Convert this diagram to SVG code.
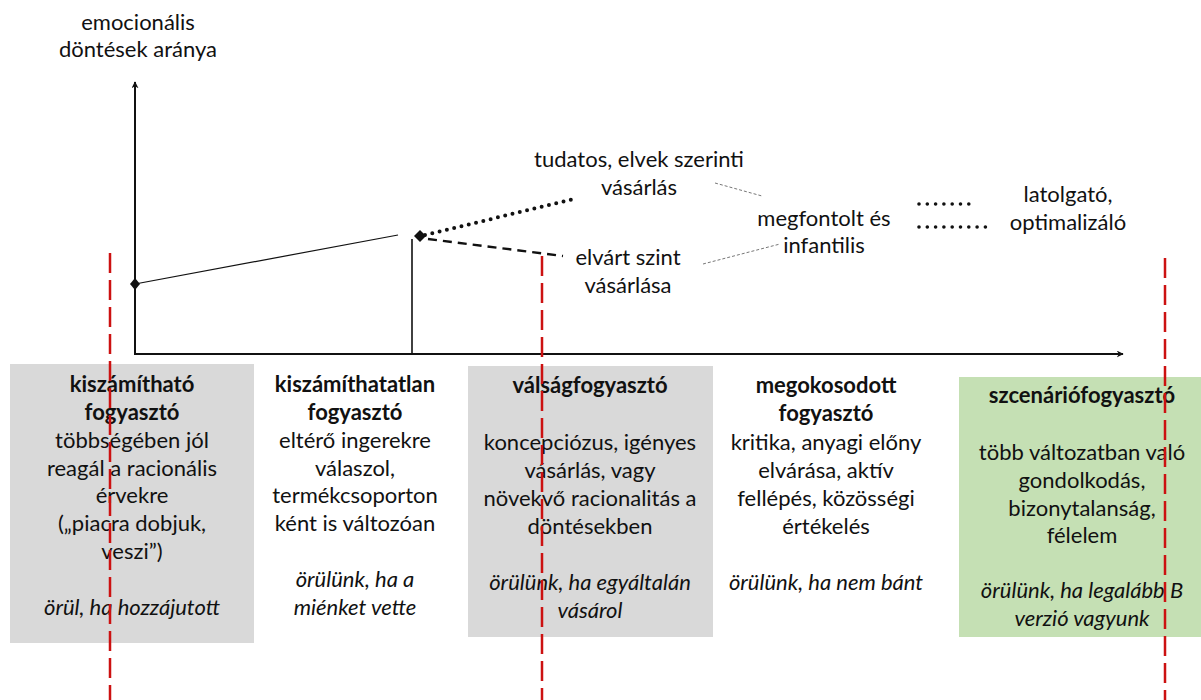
<svg xmlns="http://www.w3.org/2000/svg" width="1201" height="700" viewBox="0 0 1201 700">
<style>
text{font-family:Lato,"Open Sans","Noto Sans",sans-serif;font-size:22px;fill:#111;text-anchor:middle}
.b{font-weight:bold}
.i{font-style:italic}
.axis{stroke:#111;stroke-width:2;fill:none}
.red{stroke:#cc1111;stroke-width:2.5;stroke-dasharray:20 7;fill:none}
.thin{stroke:#777;stroke-width:1;stroke-dasharray:3 2;fill:none}
</style>
<defs>
<marker id="arr" viewBox="0 0 10 10" refX="9" refY="5" markerWidth="7" markerHeight="7" orient="auto" markerUnits="userSpaceOnUse">
<path d="M0,0 L10,5 L0,10 L3,5 Z" fill="#111"/>
</marker>
</defs>
<rect width="1201" height="700" fill="#fff"/>

<g id="box1"><rect x="10" y="364" width="244" height="279" fill="#d9d9d9"/>
<text x="132" y="392" class="b">kiszámítható</text>
<text x="132" y="420" class="b">fogyasztó</text>
<text x="132" y="448">többségében jól</text>
<text x="132" y="476">reagál a racionális</text>
<text x="132" y="503">érvekre</text>
<text x="132" y="531">(„piacra dobjuk,</text>
<text x="132" y="559">veszi”)</text>
<text x="132" y="615" class="i">örül, ha hozzájutott</text>
</g>
<g id="box2">
<text x="355" y="392" class="b">kiszámíthatatlan</text>
<text x="355" y="420" class="b">fogyasztó</text>
<text x="355" y="448">eltérő ingerekre</text>
<text x="355" y="476">válaszol,</text>
<text x="355" y="503">termékcsoporton</text>
<text x="355" y="531">ként is változóan</text>
<text x="355" y="587" class="i">örülünk, ha a</text>
<text x="355" y="615" class="i">miénket vette</text>
</g>
<g id="box3"><rect x="468" y="366" width="245" height="271" fill="#d9d9d9"/>
<text x="590" y="393" class="b">válságfogyasztó</text>
<text x="590" y="450">koncepciózus, igényes</text>
<text x="590" y="478">vásárlás, vagy</text>
<text x="590" y="506">növekvő racionalitás a</text>
<text x="590" y="534">döntésekben</text>
<text x="590" y="590" class="i">örülünk, ha egyáltalán</text>
<text x="590" y="618" class="i">vásárol</text>
</g>
<g id="box4">
<text x="826" y="393" class="b">megokosodott</text>
<text x="826" y="421" class="b">fogyasztó</text>
<text x="826" y="450">kritika, anyagi előny</text>
<text x="826" y="478">elvárása, aktív</text>
<text x="826" y="506">fellépés, közösségi</text>
<text x="826" y="534">értékelés</text>
<text x="826" y="590" class="i">örülünk, ha nem bánt</text>
</g>
<g id="box5"><rect x="959" y="377" width="242" height="260" fill="#c5e0b4"/>
<text x="1082" y="403" class="b">szcenáriófogyasztó</text>
<text x="1082" y="460">több változatban való</text>
<text x="1082" y="488">gondolkodás,</text>
<text x="1082" y="516">bizonytalanság,</text>
<text x="1082" y="543">félelem</text>
<text x="1082" y="598" class="i">örülünk, ha legalább B</text>
<text x="1082" y="626" class="i">verzió vagyunk</text>
</g>

<g id="labels">
<text x="138" y="30">emocionális</text>
<text x="138" y="57">döntések aránya</text>
<text x="639" y="167">tudatos, elvek szerinti</text>
<text x="639" y="195">vásárlás</text>
<text x="628" y="265">elvárt szint</text>
<text x="628" y="293">vásárlása</text>
<text x="824" y="226">megfontolt és</text>
<text x="824" y="253">infantilis</text>
<text x="1068" y="202">latolgató,</text>
<text x="1068" y="230">optimalizáló</text>
</g>

<g id="connectors">
<line class="axis" x1="135" y1="354" x2="135" y2="82" marker-end="url(#arr)"/>
<line class="axis" x1="134" y1="354" x2="1123" y2="354" marker-end="url(#arr)"/>
<line x1="135" y1="284" x2="398" y2="235" stroke="#111" stroke-width="1.2"/>
<path d="M135,278 L140,284 L135,290 L130,284 Z" fill="#111"/>
<line x1="412" y1="239" x2="412" y2="354" stroke="#111" stroke-width="1.6"/>
<path d="M420,230 L426,236 L420,242 L414,236 Z" fill="#111"/>
<line x1="425" y1="235" x2="578" y2="198" stroke="#111" stroke-width="4" stroke-linecap="round" stroke-dasharray="0 7.5"/>
<line x1="428" y1="239" x2="563" y2="256" stroke="#111" stroke-width="2.5" stroke-dasharray="9 6"/>
<line class="thin" x1="715" y1="183" x2="762" y2="196"/>
<line class="thin" x1="703" y1="264" x2="780" y2="244"/>
<line x1="919" y1="204" x2="977" y2="204" stroke="#111" stroke-width="3.6" stroke-linecap="round" stroke-dasharray="0 8.3"/>
<line x1="919" y1="227" x2="993" y2="227" stroke="#111" stroke-width="3.6" stroke-linecap="round" stroke-dasharray="0 8.3"/>
<line class="red" x1="110" y1="253" x2="110" y2="700"/>
<line class="red" x1="542" y1="256" x2="542" y2="700"/>
<line class="red" x1="1165" y1="258" x2="1165" y2="700"/>
</g>
</svg>
